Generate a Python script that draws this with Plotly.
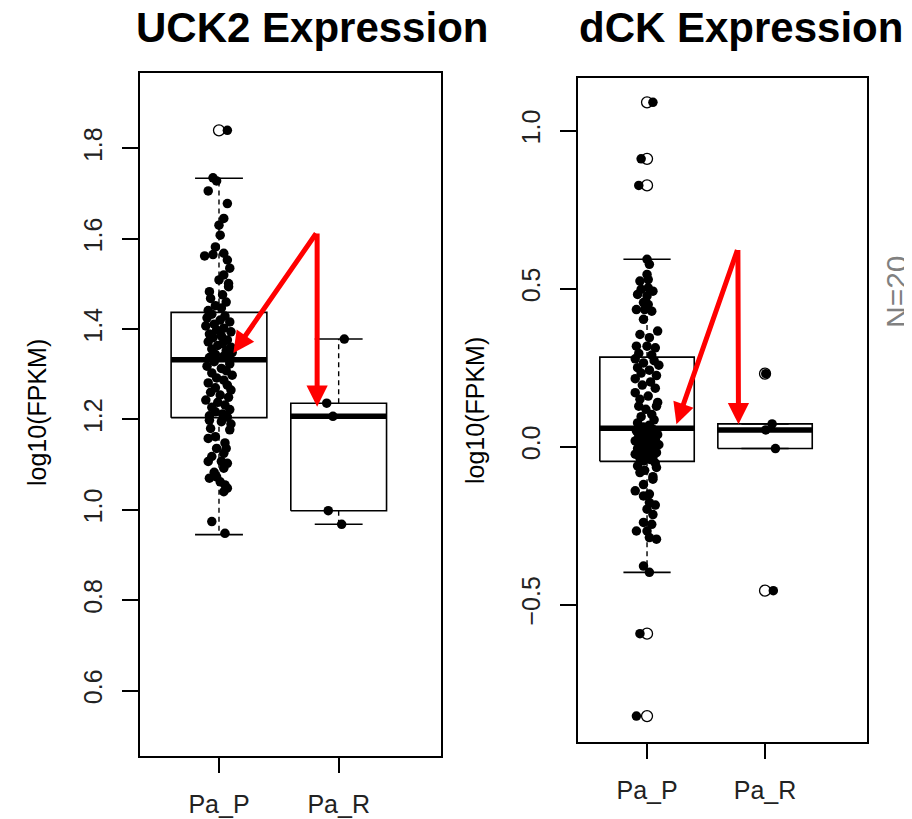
import plotly.graph_objects as go

FONT = "Liberation Sans, Arial, sans-serif"

groups = ["Pa_P", "Pa_R"]

# ---------------- UCK2 panel data ----------------
uck2_p_vals = [
    1.840, 1.735, 1.728, 1.706, 1.678, 1.645, 1.630, 1.608, 1.582, 1.568,
    1.565, 1.562, 1.553, 1.535, 1.520, 1.509, 1.501, 1.494, 1.483, 1.476,
    1.468, 1.460, 1.452, 1.447, 1.441,
    1.433, 1.429, 1.425, 1.420, 1.416, 1.411, 1.407, 1.402, 1.398, 1.394,
    1.389, 1.385, 1.381, 1.376, 1.372, 1.368, 1.364, 1.360, 1.356, 1.352,
    1.348, 1.344, 1.340, 1.337, 1.334,
    1.328, 1.323, 1.318, 1.313, 1.308, 1.303, 1.298, 1.292, 1.287, 1.281,
    1.276, 1.270, 1.265, 1.260, 1.254, 1.249, 1.243, 1.238, 1.232, 1.227,
    1.222, 1.217, 1.212, 1.208, 1.205,
    1.198, 1.195, 1.190, 1.180, 1.177, 1.162, 1.158, 1.148, 1.136, 1.136,
    1.125, 1.118, 1.107, 1.107, 1.103, 1.092, 1.083, 1.073, 1.070, 1.062,
    1.055, 1.048, 1.040, 0.974, 0.948,
]
uck2_p_jit = [
    0.07, -0.05, -0.02, -0.09, 0.07, 0.04, 0.00, 0.01, -0.03, 0.04,
    -0.05, -0.12, 0.07, 0.09, 0.04, 0.00, 0.08, 0.08, -0.08, 0.03,
    -0.07, 0.06, -0.03, 0.02, -0.09,
    -0.06, 0.05, -0.10, 0.01, 0.09, -0.04, -0.11, 0.04, -0.02, 0.10,
    -0.08, 0.02, -0.05, 0.07, -0.09, 0.03, -0.01, 0.10, -0.06, 0.06,
    0.11, -0.03, 0.04, -0.08, 0.08,
    -0.04, 0.09, -0.10, 0.02, 0.06, -0.06, 0.11, -0.02, 0.04, -0.09,
    0.07, -0.03, 0.10, -0.07, 0.01, 0.08, -0.11, -0.01, 0.05, -0.06,
    0.09, -0.03, 0.03, -0.08, 0.07,
    -0.08, 0.02, 0.10, -0.07, 0.09, -0.03, -0.09, 0.05, -0.02, 0.06,
    0.04, -0.06, -0.09, 0.02, 0.07, 0.04, -0.04, -0.02, -0.08, 0.01,
    0.05, 0.07, 0.04, -0.06, 0.05,
]
uck2_r_vals = [1.378, 1.236, 1.207, 0.998, 0.968]
uck2_r_jit = [0.047, -0.10, -0.048, -0.087, 0.025]

uck2_q1 = [1.204, 0.998]
uck2_med = [1.332, 1.207]
uck2_q3 = [1.437, 1.236]
uck2_lo = [0.945, 0.968]
uck2_hi = [1.734, 1.378]
uck2_out = [[1.840], []]

uck2_yticks = [0.6, 0.8, 1.0, 1.2, 1.4, 1.6, 1.8]
uck2_yticktext = ["0.6", "0.8", "1.0", "1.2", "1.4", "1.6", "1.8"]

# ---------------- dCK panel data ----------------
dck_p_vals = [
    1.090, 0.911, 0.827, 0.593, 0.577, 0.545, 0.529, 0.524, 0.503, 0.498,
    0.492, 0.482, 0.477, 0.456, 0.450, 0.434, 0.434, 0.429, 0.403, 0.366,
    0.355, 0.345, 0.318, 0.318, 0.313, 0.295, 0.290,
    0.278, 0.272, 0.265, 0.258, 0.250, 0.242, 0.233, 0.225, 0.215, 0.205,
    0.195, 0.185, 0.171, 0.160, 0.150, 0.140, 0.128, 0.128, 0.118, 0.102,
    0.095, 0.085, 0.075, 0.068, 0.062,
    0.055, 0.050, 0.046, 0.042, 0.038, 0.034, 0.030, 0.026, 0.022, 0.018,
    0.014, 0.010, 0.006, 0.002, -0.002, -0.006, -0.010, -0.015, -0.019, -0.024,
    -0.028, -0.033, -0.037, -0.041, -0.045,
    -0.052, -0.061, -0.066, -0.075, -0.082, -0.095, -0.103, -0.120, -0.140, -0.150,
    -0.156, -0.177, -0.185, -0.198, -0.215, -0.240, -0.246, -0.267, -0.267, -0.288,
    -0.293, -0.378, -0.398, -0.592, -0.853,
]
dck_p_jit = [
    0.05, -0.05, -0.07, 0.00, 0.02, 0.00, 0.01, -0.06, 0.01, -0.05,
    0.05, -0.08, 0.00, -0.03, 0.01, -0.09, -0.02, 0.04, -0.03, 0.09,
    -0.06, 0.02, -0.09, 0.00, 0.07, -0.07, 0.04,
    -0.10, 0.06, -0.03, 0.10, -0.08, 0.02, -0.05, 0.08, -0.10, 0.03,
    -0.04, 0.07, -0.10, 0.01, -0.06, 0.09, -0.07, 0.08, -0.01, 0.04,
    -0.05, 0.06, -0.08, 0.02, -0.03,
    0.05, -0.09, 0.01, -0.04, 0.09, -0.07, 0.03, -0.01, 0.07, -0.10,
    0.04, -0.05, 0.10, -0.02, 0.06, -0.08, 0.02, -0.04, 0.08, -0.10,
    0.00, 0.05, -0.06, 0.03, -0.03,
    0.07, -0.08, 0.08, -0.02, -0.06, 0.05, 0.05, -0.03, -0.10, 0.02,
    -0.03, 0.02, 0.07, 0.00, 0.05, -0.03, 0.04, -0.09, 0.00, 0.02,
    0.08, -0.03, 0.02, -0.06, -0.09,
]
dck_r_vals = [0.231, 0.072, 0.053, -0.006, -0.456]
dck_r_jit = [0.006, 0.06, 0.006, 0.088, 0.07]

dck_q1 = [-0.0465, -0.006]
dck_med = [0.058, 0.053]
dck_q3 = [0.2835, 0.072]
dck_lo = [-0.398, -0.006]
dck_hi = [0.593, 0.072]
dck_out = [[1.090, 0.911, 0.827, -0.592, -0.853], [0.231, -0.456]]

dck_yticks = [-0.5, 0.0, 0.5, 1.0]
dck_yticktext = ["\u22120.5", "0.0", "0.5", "1.0"]

panels = [
    dict(title="UCK2 Expression", xa="x", ya="y",
         vals=[uck2_p_vals, uck2_r_vals], jit=[uck2_p_jit, uck2_r_jit],
         q1=uck2_q1, med=uck2_med, q3=uck2_q3, lo=uck2_lo, hi=uck2_hi, out=uck2_out,
         arrow_tail=(1.82, 1.615), arrow_heads=[(1.12, 1.347), (1.82, 1.228)]),
    dict(title="dCK Expression", xa="x2", ya="y2",
         vals=[dck_p_vals, dck_r_vals], jit=[dck_p_jit, dck_r_jit],
         q1=dck_q1, med=dck_med, q3=dck_q3, lo=dck_lo, hi=dck_hi, out=dck_out,
         arrow_tail=(1.77, 0.627), arrow_heads=[(1.249, 0.071), (1.775, 0.071)]),
]

# page body has an 8px margin: lay the figure out in a 904x811 canvas
OFF = 8
W, H = 912 - OFF, 819 - OFF


def px(x):
    return (x - OFF) / W


def py(y):
    return 1 - (y - OFF) / H


fig = go.Figure()
BOXW = 0.4
CAPW = 0.2

for p in panels:
    xa, ya = p["xa"], p["ya"]
    for i, g in enumerate(groups):
        xc = i + 1
        q1, med, q3, lo, hi = p["q1"][i], p["med"][i], p["q3"][i], p["lo"][i], p["hi"][i]
        fig.add_trace(go.Scatter(x=[xc, xc, None, xc, xc], y=[q3, hi, None, q1, lo],
                                 mode="lines", line=dict(color="black", width=1.4, dash="5px,4px"),
                                 xaxis=xa, yaxis=ya, hoverinfo="skip", showlegend=False))
        fig.add_trace(go.Scatter(x=[xc - CAPW, xc + CAPW, None, xc - CAPW, xc + CAPW],
                                 y=[hi, hi, None, lo, lo],
                                 mode="lines", line=dict(color="black", width=1.6),
                                 xaxis=xa, yaxis=ya, hoverinfo="skip", showlegend=False))
        fig.add_trace(go.Scatter(x=[xc - BOXW, xc + BOXW, xc + BOXW, xc - BOXW, xc - BOXW],
                                 y=[q1, q1, q3, q3, q1],
                                 mode="lines", line=dict(color="black", width=1.6),
                                 xaxis=xa, yaxis=ya, hoverinfo="skip", showlegend=False))
        fig.add_trace(go.Scatter(x=[xc - BOXW, xc + BOXW], y=[med, med],
                                 mode="lines", line=dict(color="black", width=5.5),
                                 xaxis=xa, yaxis=ya, hoverinfo="skip", showlegend=False))
        if p["out"][i]:
            fig.add_trace(go.Scatter(x=[xc] * len(p["out"][i]), y=p["out"][i], mode="markers",
                                     marker=dict(symbol="circle-open", size=11, color="black",
                                                 line=dict(width=1.3)),
                                     xaxis=xa, yaxis=ya, hoverinfo="skip", showlegend=False))
    for i, g in enumerate(groups):
        xc = i + 1
        fig.add_trace(go.Scatter(x=[xc + j for j in p["jit"][i]], y=p["vals"][i], mode="markers",
                                 marker=dict(size=9.5, color="black"),
                                 xaxis=xa, yaxis=ya, name=g, showlegend=False))
    tx, ty = p["arrow_tail"]
    for hx, hy in p["arrow_heads"]:
        fig.add_annotation(x=hx, y=hy, ax=tx, ay=ty, xref=xa, yref=ya, axref=xa, ayref=ya,
                           text="", showarrow=True, arrowhead=2, arrowsize=0.85,
                           arrowwidth=5, arrowcolor="#FF0000", standoff=0)

axis_common = dict(showline=True, mirror=True, linecolor="black", linewidth=1.6,
                   showgrid=False, zeroline=False, ticks="outside", tickcolor="black",
                   tickwidth=1.6, tickfont=dict(family=FONT, size=25, color="#222222"))

fig.update_layout(
    width=W, height=H, margin=dict(l=0, r=0, t=0, b=0),
    paper_bgcolor="white", plot_bgcolor="white", showlegend=False,
    xaxis=dict(domain=[px(140), px(441)], range=[0.34, 2.855], tickvals=[1, 2], ticktext=groups,
               ticklen=15, ticklabelstandoff=10, **axis_common),
    yaxis=dict(domain=[py(756), py(73)], range=[0.455, 1.967], tickvals=uck2_yticks,
               ticktext=uck2_yticktext, tickangle=-90, ticklen=16, ticklabelstandoff=10,
               **axis_common),
    xaxis2=dict(domain=[px(578), px(867)], range=[0.415, 2.864], tickvals=[1, 2], ticktext=groups,
                ticklen=15, ticklabelstandoff=10, anchor="y2", **axis_common),
    yaxis2=dict(domain=[py(742), py(78)], range=[-0.935, 1.167], tickvals=dck_yticks,
                ticktext=dck_yticktext, tickangle=-90, ticklen=16, ticklabelstandoff=10,
                anchor="x2", **axis_common),
)

fig.add_annotation(text="<b>UCK2 Expression</b>", x=px(312), y=py(27), xref="paper", yref="paper",
                   showarrow=False, font=dict(family=FONT, size=42, color="black"),
                   xanchor="center", yanchor="middle")
fig.add_annotation(text="<b>dCK Expression</b>", x=px(741), y=py(27), xref="paper", yref="paper",
                   showarrow=False, font=dict(family=FONT, size=42, color="black"),
                   xanchor="center", yanchor="middle")
fig.add_annotation(text="log10(FPKM)", x=px(37), y=py(413), xref="paper", yref="paper",
                   showarrow=False, textangle=-90, font=dict(family=FONT, size=25, color="black"),
                   xanchor="center", yanchor="middle")
fig.add_annotation(text="log10(FPKM)", x=px(475), y=py(411), xref="paper", yref="paper",
                   showarrow=False, textangle=-90, font=dict(family=FONT, size=25, color="black"),
                   xanchor="center", yanchor="middle")
fig.add_annotation(text="N=20", x=px(896), y=py(292), xref="paper", yref="paper",
                   showarrow=False, textangle=-90, font=dict(family=FONT, size=30, color="#808080"),
                   xanchor="center", yanchor="middle")

fig.write_html("out.html")
